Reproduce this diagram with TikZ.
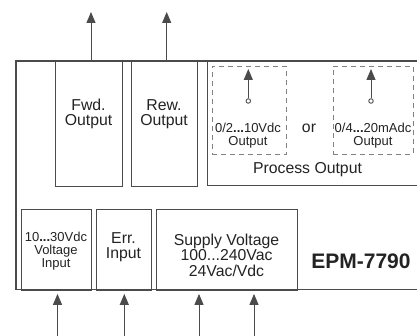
\documentclass[tikz,border=0pt]{standalone}
\usepackage{fontspec}
\setmainfont{Liberation Sans}
\usetikzlibrary{arrows.meta}
\definecolor{ln}{RGB}{75,75,75}
\definecolor{tx}{RGB}{35,35,35}
\tikzset{
  box/.style={draw=ln, line width=0.9pt, anchor=north west, inner sep=0pt},
  dbox/.style={draw=ln!70, line width=1pt, dash pattern=on 5pt off 4pt, anchor=north west, inner sep=0pt},
  lbl/.style={text=tx, font=\fontsize{15.8}{15.5}\selectfont, align=center, inner sep=0pt},
  slbl/.style={text=tx, font=\fontsize{13}{13}\selectfont, align=center, inner sep=0pt},
  arr/.style={draw=ln, line width=1pt, -{Triangle[length=11pt,width=9pt]}},
}
\begin{document}
\begin{tikzpicture}[x=1pt,y=-1pt]
\useasboundingbox[fill=white] (0,0) rectangle (417,336);
% outer housing
\draw[ln, line width=1.2pt] (430,61) -- (16,61) -- (16,289.5) -- (430,289.5);
% top boxes
\node[box, minimum width=67pt, minimum height=125pt] (fwd) at (55,61) {};
\node[box, minimum width=66pt, minimum height=125pt] (rew) at (131,61) {};
\node[box, minimum width=230pt, minimum height=124pt] (proc) at (207,61) {};
\node[lbl] (fwdt) at (88.5,114) {Fwd.\\Output};
\node[lbl] (rewt) at (164,114) {Rew.\\Output};
% process output
\node[dbox, minimum width=74.5pt, minimum height=88pt] (d1) at (211.7,66) {};
\node[dbox, minimum width=80pt, minimum height=88pt] (d2) at (332.7,66) {};
\node[draw=ln, line width=0.9pt, circle, minimum size=4.5pt, inner sep=0pt] (c1) at (248.3,101) {};
\node[draw=ln, line width=0.9pt, circle, minimum size=4.5pt, inner sep=0pt] (c2) at (371,101) {};
\coordinate (t1) at (248.3,69);
\coordinate (t2) at (371,69);
\draw[arr] (c1) -- (t1);
\draw[arr] (c2) -- (t2);
\node[slbl] (v1) at (248,135.5) {0/2{\bfseries...}10Vdc\\Output};
\node[slbl] (v2) at (373,135.5) {0/4{\bfseries...}20mAdc\\Output};
\node[lbl] (or) at (309,128) {or};
\node[lbl] (pt) at (307.5,170) {Process Output};
% top arrows
\coordinate (a1) at (91,12);
\coordinate (a2) at (166.7,12);
\draw[arr] (fwd.north -| a1) -- (a1);
\draw[arr] (rew.north -| a2) -- (a2);
% bottom boxes
\node[box, minimum width=70pt, minimum height=80.5pt] (vin) at (21,209) {};
\node[box, minimum width=55pt, minimum height=80.5pt] (err) at (96,209) {};
\node[box, minimum width=141pt, minimum height=80.5pt] (sup) at (156,209) {};
\node[slbl] (vint) at (56,251) {10{\bfseries...}30Vdc\\Voltage\\Input};
\node[lbl] (errt) at (123.5,247) {Err.\\Input};
\node[lbl] (supt) at (226.5,255) {Supply Voltage\\100...240Vac\\24Vac/Vdc};
\node[text=tx, font=\fontsize{21}{21}\selectfont\bfseries, inner sep=0pt] (epm) at (361,261) {EPM-7790};
% bottom arrows
\coordinate (b1) at (57.5,336);
\coordinate (b2) at (124.3,336);
\coordinate (b3) at (199,336);
\coordinate (b4) at (254,336);
\draw[arr] (b1) -- ([yshift=-3.5pt]vin.south -| b1);
\draw[arr] (b2) -- ([yshift=-3.5pt]err.south -| b2);
\draw[arr] (b3) -- ([yshift=-3.5pt]sup.south -| b3);
\draw[arr] (b4) -- ([yshift=-3.5pt]sup.south -| b4);
\end{tikzpicture}
\end{document}
